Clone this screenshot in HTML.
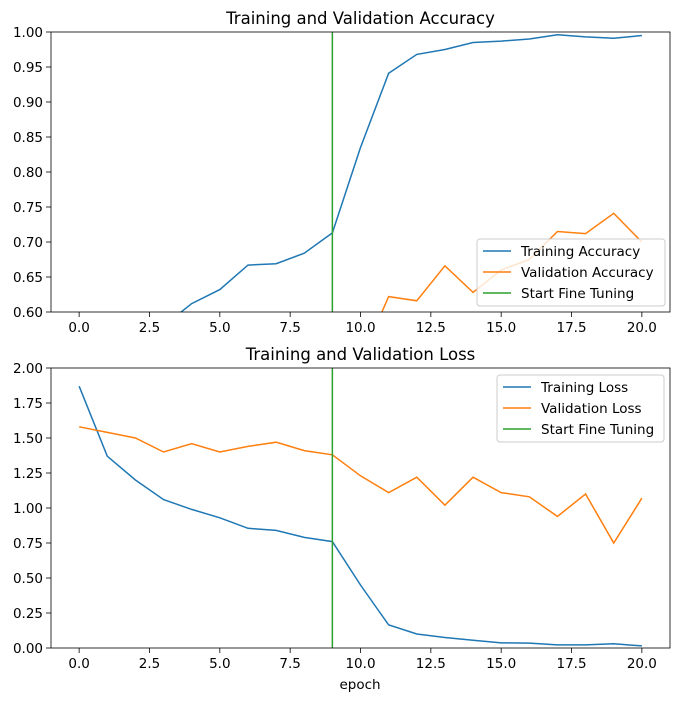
<!DOCTYPE html>
<html><head><meta charset="utf-8"><style>
body{margin:0;background:#fff;}
svg text{font-family:"DejaVu Sans","Liberation Sans",sans-serif;fill:#000;}
</style></head><body>
<svg id="chart" width="680" height="701" xmlns="http://www.w3.org/2000/svg"></svg>
<script>
const epochs=[0,1,2,3,4,5,6,7,8,9,10,11,12,13,14,15,16,17,18,19,20];
const trainAcc=[0.45,0.52,0.55,0.58,0.612,0.632,0.667,0.669,0.684,0.713,0.835,0.941,0.968,0.975,0.985,0.987,0.990,0.996,0.993,0.991,0.995];
const valAcc=[0.40,0.42,0.43,0.44,0.45,0.46,0.47,0.48,0.49,0.50,0.53,0.622,0.616,0.666,0.628,0.66,0.675,0.715,0.712,0.741,0.70];
const trainLoss=[1.87,1.37,1.20,1.06,0.99,0.93,0.855,0.84,0.79,0.76,0.45,0.165,0.10,0.075,0.055,0.037,0.035,0.022,0.022,0.03,0.015];
const valLoss=[1.58,1.54,1.50,1.40,1.46,1.40,1.44,1.47,1.41,1.38,1.23,1.11,1.22,1.02,1.22,1.11,1.08,0.94,1.10,0.75,1.07];
const fineTune=9;
const xTicks=[0,2.5,5,7.5,10,12.5,15,17.5,20];
const xTickLabels=["0.0","2.5","5.0","7.5","10.0","12.5","15.0","17.5","20.0"];
const accTicks=[0.60,0.65,0.70,0.75,0.80,0.85,0.90,0.95,1.00];
const lossTicks=[0,0.25,0.5,0.75,1.0,1.25,1.5,1.75,2.0];

const NS="http://www.w3.org/2000/svg";
const svg=document.getElementById('chart');
function mk(t,a,p){const e=document.createElementNS(NS,t);for(const k in a)e.setAttribute(k,a[k]);(p||svg).appendChild(e);return e;}
const X0=51,X1=670,XMIN=-1,XMAX=21;
const x=v=>X0+(v-XMIN)/(XMAX-XMIN)*(X1-X0);

function panel(top,bot,ymin,ymax,yTicks,series,title,legend,id){
  const y=v=>bot-(v-ymin)/(ymax-ymin)*(bot-top);
  const g=mk('g',{});
  
  
  const cp=mk('clipPath',{id:'clip'+id},g);
  mk('rect',{x:X0,y:top,width:X1-X0,height:bot-top},cp);
  const t=mk('text',{x:(X0+X1)/2,y:top-8,'text-anchor':'middle','font-size':16.5},g);
  t.textContent=title;
  
  
  xTicks.forEach((v,i)=>{
    mk('line',{x1:x(v),x2:x(v),y1:bot,y2:bot+5,stroke:'#000','stroke-width':0.8},g);
    const l=mk('text',{x:x(v),y:bot+20,'text-anchor':'middle','font-size':13.5},g);
    l.textContent=xTickLabels[i];
    
    
  });
  yTicks.forEach(v=>{
    mk('line',{x1:X0-5,x2:X0,y1:y(v),y2:y(v),stroke:'#000','stroke-width':0.8},g);
    const l=mk('text',{x:X0-8,y:y(v)+5,'text-anchor':'end','font-size':13.5},g);
    l.textContent=v.toFixed(2);
    
    
  });
  const pg=mk('g',{'clip-path':'url(#clip'+id+')'},g);
  series.forEach(s=>{
    const p=mk('polyline',{points:s.d.map((v,i)=>x(epochs[i])+','+y(v)).join(' '),fill:'none',stroke:s.c,'stroke-width':1.5},pg);
    
    
  });
  const vl=mk('line',{x1:x(fineTune),x2:x(fineTune),y1:top,y2:bot,stroke:'#2ca02c','stroke-width':1.5},pg);
  
  
  mk('rect',{x:X0,y:top,width:X1-X0,height:bot-top,fill:'none',stroke:'#000','stroke-width':0.8},g);
  // legend
  const lg=mk('g',{},g);
  
  
  mk('rect',{x:legend.x,y:legend.y,width:legend.w,height:67,rx:3,fill:'#fff','fill-opacity':0.8,stroke:'#ccc'},lg);
  const items=[...series.map(s=>[s.label,s.c]),['Start Fine Tuning','#2ca02c']];
  items.forEach((it,i)=>{
    const yy=legend.y+12+i*21;
    mk('line',{x1:legend.x+6,x2:legend.x+34,y1:yy,y2:yy,stroke:it[1],'stroke-width':1.5},lg);
    const tt=mk('text',{x:legend.x+44,y:yy+5,'font-size':13.5},lg);
    tt.textContent=it[0];
    
    
  });
}
panel(32,312,0.6,1.0,accTicks,[{d:trainAcc,c:'#1f77b4',n:'training-accuracy-line',label:'Training Accuracy'},{d:valAcc,c:'#ff7f0e',n:'validation-accuracy-line',label:'Validation Accuracy'}],'Training and Validation Accuracy',{x:477,y:239,w:188},'acc');
panel(368,648,0,2.0,lossTicks,[{d:trainLoss,c:'#1f77b4',n:'training-loss-line',label:'Training Loss'},{d:valLoss,c:'#ff7f0e',n:'validation-loss-line',label:'Validation Loss'}],'Training and Validation Loss',{x:497,y:375,w:167},'loss');
const xl=mk('text',{x:360,y:689,'text-anchor':'middle','font-size':13.5});
xl.textContent='epoch';


</script>
</body></html>
